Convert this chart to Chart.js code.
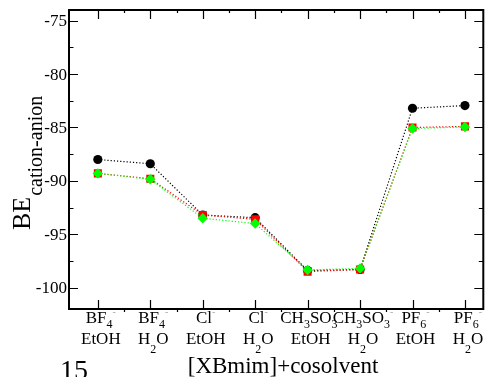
<!DOCTYPE html>
<html>
<head>
<meta charset="utf-8">
<script src="https://cdn.jsdelivr.net/npm/chart.js@4"></script>
<style>
    body { margin: 0; background: white; }
    canvas { display: block; }
</style>
</head>
<body>
<canvas id="chartBE" width="489" height="377"></canvas>
<script>
// anion / cosolvent labels ("_" = subscript, "^" = superscript)
let anionLabels = ["BF_4^-", "BF_4^-", "Cl^-", "Cl^-", "CH_3SO_3^-", "CH_3SO_3^-", "PF_6^-", "PF_6^-"]
let solventLabels = ["EtOH", "H_2O", "EtOH", "H_2O", "EtOH", "H_2O", "EtOH", "H_2O"]

let beBlack = [-88.0, -88.4, -93.2, -93.45, -98.4, -98.3, -83.2, -82.95]
let beRed = [-89.3, -89.8, -93.2, -93.6, -98.5, -98.3, -85.0, -84.9]
let beGreen = [-89.3, -89.85, -93.5, -94.0, -98.35, -98.2, -85.1, -84.95]

let yTicks = [-100, -95, -90, -85, -80, -75]
let yMinorTicks = [-97.5, -92.5, -87.5, -82.5, -77.5]

let serif = "'Liberation Serif', 'DejaVu Serif', serif"

let toPoints = (arr) => arr.map((v, i) => ({ x: i + 1, y: v }))

// splits "CH_3SO_3^-" into pieces with a kind
let parseLabel = (str) => {
    let parts = []
    for (let i = 0; i < str.length; i++) {
        let c = str[i]
        if (c === "_" || c === "^") {
            parts.push({ text: str[i + 1], kind: c === "_" ? "sub" : "sup" })
            i++
        } else {
            let last = getLastPart(parts)
            if (last && last.kind === "main") last.text += c
            else parts.push({ text: c, kind: "main" })
        }
    }
    return parts
}
let getLastPart = (arr) => arr[arr.length - 1]

let drawRich = (ctx, str, cx, baseline, subShift) => {
    let parts = parseLabel(str)
    let fonts = { main: `17px ${serif}`, sub: `12px ${serif}`, sup: `10px ${serif}` }
    let width = 0
    for (let p of parts) {
        ctx.font = fonts[p.kind]
        p.w = ctx.measureText(p.text).width
        width += p.w
    }
    let x = cx - width / 2
    ctx.textAlign = "left"
    ctx.textBaseline = "alphabetic"
    for (let p of parts) {
        ctx.font = fonts[p.kind]
        if (p.kind === "main") { ctx.fillStyle = "#000"; ctx.fillText(p.text, x, baseline) }
        if (p.kind === "sub") { ctx.fillStyle = "#000"; ctx.fillText(p.text, x, baseline + subShift) }
        if (p.kind === "sup") { ctx.fillStyle = "#aaa"; ctx.fillText(p.text, x, baseline - 8) }
        x += p.w
    }
}

let framePlugin = {
    id: "frame",
    afterDraw: (chart) => {
        let ctx = chart.ctx
        let area = chart.chartArea
        let xs = chart.scales.x
        let ys = chart.scales.y
        ctx.save()
        ctx.strokeStyle = "#000"
        ctx.lineWidth = 2
        ctx.strokeRect(area.left, area.top, area.right - area.left, area.bottom - area.top)

        ctx.lineWidth = 1.2
        ctx.beginPath()
        // x ticks, bottom and top, pointing inward
        for (let i = 0; i < anionLabels.length; i++) {
            let px = Math.round(xs.getPixelForValue(i + 1)) + 0.5
            ctx.moveTo(px, area.bottom); ctx.lineTo(px, area.bottom - 9)
            ctx.moveTo(px, area.top); ctx.lineTo(px, area.top + 9)
            let mx = Math.round(xs.getPixelForValue(i + 1.5)) + 0.5
            if (mx < area.right - 3) {
                ctx.moveTo(mx, area.bottom); ctx.lineTo(mx, area.bottom + 3)
                ctx.moveTo(mx, area.top); ctx.lineTo(mx, area.top + 3)
            }
        }
        // y ticks, left and right
        for (let v of yTicks) {
            let py = Math.round(ys.getPixelForValue(v)) + 0.5
            ctx.moveTo(area.left, py); ctx.lineTo(area.left + 9, py)
            ctx.moveTo(area.right, py); ctx.lineTo(area.right - 9, py)
        }
        for (let v of yMinorTicks) {
            let py = Math.round(ys.getPixelForValue(v)) + 0.5
            ctx.moveTo(area.left, py); ctx.lineTo(area.left + 4.5, py)
            ctx.moveTo(area.right, py); ctx.lineTo(area.right - 4.5, py)
        }
        ctx.stroke()

        // y tick labels
        ctx.fillStyle = "#000"
        ctx.font = `17px ${serif}`
        ctx.textAlign = "right"
        ctx.textBaseline = "middle"
        for (let v of yTicks) {
            ctx.fillText(`${v}`, area.left - 2, ys.getPixelForValue(v) + 1)
        }

        // x tick labels, two lines
        for (let i = 0; i < anionLabels.length; i++) {
            let px = xs.getPixelForValue(i + 1) + 3
            drawRich(ctx, anionLabels[i], px, area.bottom + 14, 5)
            drawRich(ctx, solventLabels[i], px, area.bottom + 35, 9)
        }

        // axis titles
        ctx.fillStyle = "#000"
        ctx.font = `23px ${serif}`
        ctx.textAlign = "center"
        ctx.textBaseline = "alphabetic"
        ctx.fillText("[XBmim]+cosolvent", 283, 373)

        ctx.font = `28px ${serif}`
        ctx.textAlign = "left"
        ctx.fillText("15", 60, 379)

        ctx.translate(30, 230)
        ctx.rotate(-Math.PI / 2)
        ctx.font = `26px ${serif}`
        ctx.fillText("BE", 0, 0)
        let beW = ctx.measureText("BE").width
        ctx.font = `20px ${serif}`
        ctx.fillText("cation-anion", beW + 1, 12)
        ctx.restore()
    }
}

window.addEventListener("load", () => {
    let dataset = (label, data, color, style, radius, order) => ({
        label: label,
        data: toPoints(data),
        borderColor: color,
        backgroundColor: color,
        borderWidth: 1.2,
        borderDash: [1.2, 2],
        pointStyle: style,
        pointRadius: radius,
        pointBorderWidth: 0,
        tension: 0,
        order: order,
    })

    new Chart(document.getElementById("chartBE"), {
        type: "line",
        data: {
            datasets: [
                dataset("black", beBlack, "#000000", "circle", 4.6, 3),
                dataset("red", beRed, "#ff0000", "rect", 5.7, 2),
                dataset("green", beGreen, "#00ff00", "rectRot", 5.2, 1),
            ]
        },
        options: {
            responsive: false,
            animation: false,
            layout: { padding: { left: 69, top: 10, right: 1, bottom: 68 } },
            scales: {
                x: { type: "linear", min: 0.45, max: 8.35, display: false },
                y: { type: "linear", min: -102, max: -74, display: false },
            },
            plugins: {
                legend: { display: false },
                tooltip: { enabled: false },
            }
        },
        plugins: [framePlugin]
    })
})
</script>
</body>
</html>
